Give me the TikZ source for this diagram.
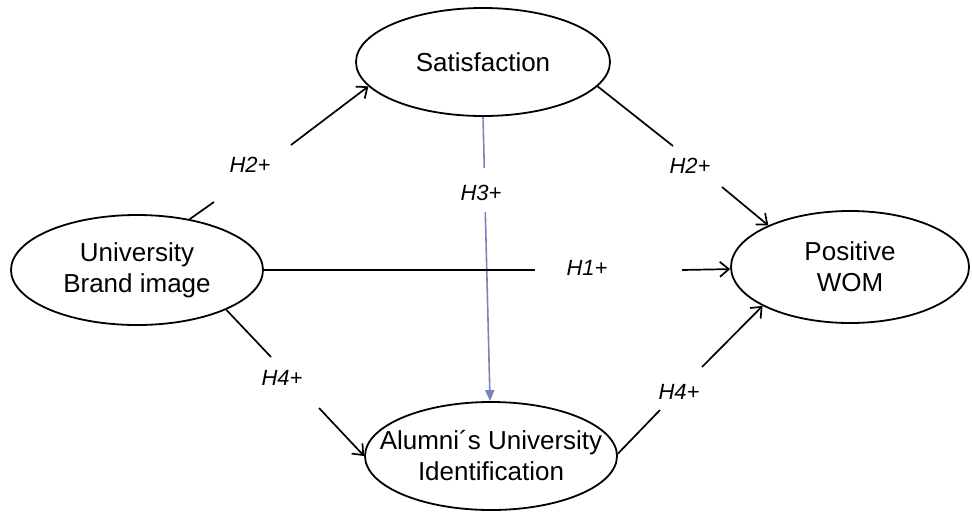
\documentclass[tikz,border=0pt]{standalone}
\usepackage{fontspec}
\setmainfont{Liberation Sans}
\usetikzlibrary{arrows.meta,shapes.geometric}
\definecolor{linkblue}{RGB}{122,132,186}
\begin{document}
\begin{tikzpicture}[x=1pt,y=-1pt,
  oval/.style={ellipse, draw, line width=1.8pt, minimum width=252pt, minimum height=108pt,
    inner xsep=-60pt, inner ysep=-10pt, align=center, font=\fontsize{26}{31}\selectfont},
  link/.style={line width=1.7pt},
  arr/.style={link, -{Straight Barb[length=9pt,width=15pt]}},
  hyp/.style={font=\fontsize{22}{26}\selectfont\itshape, inner sep=0pt},
  bluelink/.style={line width=1.6pt, draw=linkblue},
  bluearr/.style={bluelink, -{Triangle[length=11pt,width=9pt,fill=linkblue]}}
]
\useasboundingbox (0,0) rectangle (972,512);

% constructs
\node[oval, minimum width=254pt] (sat) at (483,62) {Satisfaction};
\node[oval, minimum height=110pt] (ubi) at (137,270) {University\\Brand image};
\node[oval, minimum width=238pt, minimum height=112pt] (wom) at (850,267) {Positive\\WOM};
\node[oval] (alum) at (491,456) {Alumni´s University\\Identification};

% hypothesis labels
\node[hyp] (h2a) at (250,165) {H2+};
\node[hyp] (h2b) at (690,166) {H2+};
\node[hyp] (h3) at (481,193) {H3+};
\node[hyp] (h1) at (587,268) {H1+};
\node[hyp] (h4a) at (282,378) {H4+};
\node[hyp] (h4b) at (679,392) {H4+};

% gap coordinates
\coordinate (c1a) at (214,202);
\coordinate (c1b) at (291,145);
\coordinate (c2a) at (673,146);
\coordinate (c2b) at (722,187);
\coordinate (c3a) at (484.3,168);
\coordinate (c3b) at (485.3,212);
\coordinate (c4a) at (535,270);
\coordinate (c4b) at (682,270);
\coordinate (c5a) at (271,357);
\coordinate (c5b) at (319,408);
\coordinate (c6a) at (660,410);
\coordinate (c6b) at (702,367);

% H2+ : brand image -> satisfaction
\draw[link] (ubi.44) -- (c1a);
\draw[arr] (c1b) -- (sat.192);
% H2+ : satisfaction -> WOM
\draw[link] (sat.348) -- (c2a);
\draw[arr] (c2b) -- (wom.153);
% H3+ : satisfaction -> identification
\draw[bluelink] (sat.270) -- (c3a);
\draw[bluearr] (c3b) -- (alum.91);
% H1+ : brand image -> WOM
\draw[link] (ubi.east) -- (c4a);
\draw[arr] (c4b) -- (wom.181.5);
% H4+ : brand image -> identification
\draw[link] (ubi.336) -- (c5a);
\draw[arr] (c5b) -- (alum.180);
% H4+ : identification -> WOM
\draw[link] (alum.1) -- (c6a);
\draw[arr] (c6b) -- (wom.204);
\end{tikzpicture}
\end{document}
